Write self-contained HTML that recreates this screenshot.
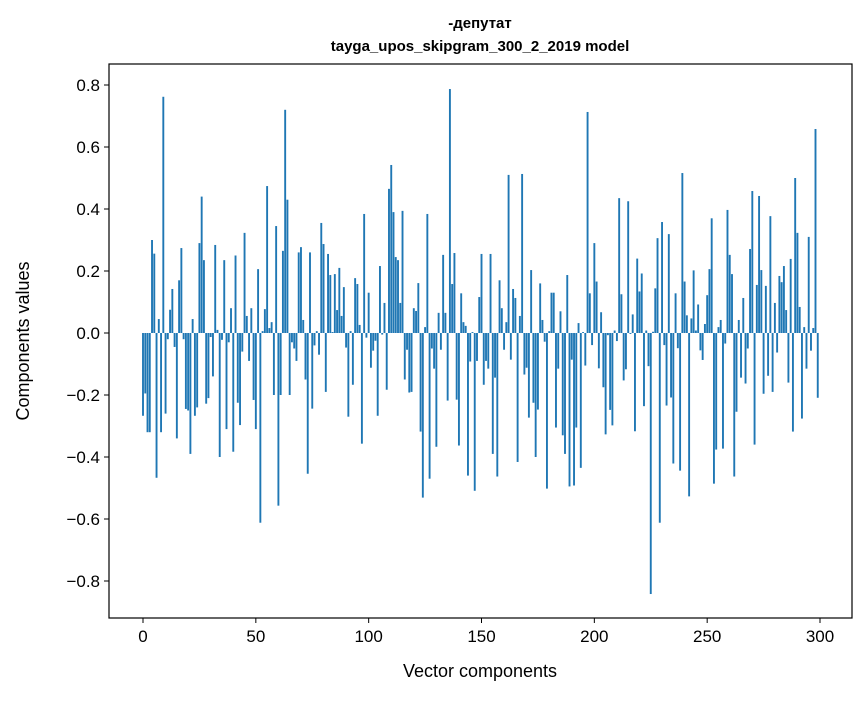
<!DOCTYPE html>
<html><head><meta charset="utf-8"><style>
body{margin:0;background:#fff;}
svg text{font-family:"Liberation Sans","DejaVu Sans",sans-serif;fill:#000;}
</style></head><body>
<svg id="chart" width="867" height="696" xmlns="http://www.w3.org/2000/svg">
<rect width="867" height="696" fill="#fff"/>
<text x="480" y="28" text-anchor="middle" font-size="15" font-weight="bold">-депутат</text>
<text x="480" y="51" text-anchor="middle" font-size="15" font-weight="bold">tayga_upos_skipgram_300_2_2019 model</text>
<g id="bars"></g>
<g id="axes"></g>
<text x="480" y="677" text-anchor="middle" font-size="18">Vector components</text>
<text transform="translate(29,341) rotate(-90)" text-anchor="middle" font-size="18">Components values</text>
</svg>
<script>
const values = [
-0.267,-0.195,-0.32,-0.32,0.30,0.256,-0.467,0.045,-0.32,0.762,
-0.26,-0.02,0.075,0.142,-0.045,-0.34,0.17,0.274,-0.02,-0.245,
-0.25,-0.39,0.045,-0.267,-0.24,0.29,0.44,0.235,-0.228,-0.21,
-0.013,-0.14,0.284,0.01,-0.4,-0.022,0.235,-0.31,-0.03,0.08,
-0.383,0.25,-0.225,-0.297,-0.06,0.323,0.055,-0.09,0.08,-0.216,
-0.31,0.206,-0.612,0.006,0.077,0.474,0.016,0.035,-0.2,0.345,
-0.557,-0.2,0.265,0.72,0.43,-0.2,-0.03,-0.05,-0.09,0.26,
0.277,0.042,-0.15,-0.454,0.26,-0.244,-0.04,0.006,-0.07,0.355,
0.287,-0.19,0.255,0.187,0.003,0.19,0.074,0.21,0.055,0.148,
-0.047,-0.27,0.006,-0.167,0.177,0.158,0.026,-0.357,0.384,-0.015,
0.13,-0.112,-0.057,-0.025,-0.267,0.216,-0.005,0.097,-0.183,0.465,
0.542,0.39,0.245,0.235,0.097,0.394,-0.15,-0.054,-0.192,-0.19,
0.08,0.071,0.161,-0.318,-0.531,0.019,0.384,-0.47,-0.05,-0.115,
-0.367,0.065,-0.054,0.252,0.065,-0.218,0.787,0.158,0.258,-0.215,
-0.363,0.128,0.035,0.023,-0.46,-0.092,0.003,-0.509,-0.09,0.116,
0.255,-0.167,-0.09,-0.115,0.255,-0.39,-0.144,-0.463,0.17,0.08,
-0.054,0.035,0.51,-0.086,0.142,0.113,-0.416,0.055,0.513,-0.134,
-0.112,-0.273,0.203,-0.225,-0.4,-0.247,0.16,0.042,-0.028,-0.502,
0.006,0.13,0.13,-0.305,-0.115,0.07,-0.33,-0.39,0.187,-0.495,
-0.086,-0.492,-0.305,0.032,-0.435,0.003,-0.105,0.713,0.128,-0.039,
0.29,0.166,-0.114,0.067,-0.175,-0.327,-0.007,-0.248,-0.298,0.008,
-0.026,0.435,0.125,-0.153,-0.117,0.425,-0.003,0.06,-0.317,0.24,
0.134,0.192,-0.236,0.008,-0.107,-0.842,0.004,0.144,0.306,-0.612,
0.358,-0.039,-0.234,0.319,-0.208,-0.421,0.128,-0.049,-0.444,0.516,
0.166,0.057,-0.527,0.047,0.202,0.008,0.092,-0.056,-0.087,0.029,
0.122,0.206,0.37,-0.486,-0.376,0.019,0.042,-0.373,-0.034,0.397,
0.252,0.19,-0.463,-0.254,0.042,-0.144,0.113,-0.163,-0.05,0.271,
0.458,-0.36,0.155,0.442,0.203,-0.196,0.152,-0.138,0.377,-0.19,
0.097,-0.063,0.184,0.164,0.216,0.074,-0.16,0.239,-0.318,0.5,
0.323,0.084,-0.276,0.019,-0.115,0.31,-0.057,0.016,0.658,-0.209
];
const xTicks = [0,50,100,150,200,250,300];
const yTicks = [-0.8,-0.6,-0.4,-0.2,0.0,0.2,0.4,0.6,0.8];
const yTickLabels = ["−0.8","−0.6","−0.4","−0.2","0.0","0.2","0.4","0.6","0.8"];

const L=109,R=852,T=64,B=618;
function xs(v){return 143+v*2.2567;}
function ys(v){return 333-v*310;}
const NS="http://www.w3.org/2000/svg";
const bars=document.getElementById('bars');
values.forEach((v,i)=>{
  const r=document.createElementNS(NS,'rect');
  const x0=xs(i-0.42),x1=xs(i+0.42);
  const y0=ys(Math.max(v,0)),y1=ys(Math.min(v,0));
  r.setAttribute('x',x0);r.setAttribute('width',x1-x0);
  r.setAttribute('y',y0);r.setAttribute('height',Math.max(y1-y0,0.01));
  r.setAttribute('fill','#1f77b4');
  
  
  bars.appendChild(r);
});
const ax=document.getElementById('axes');
const frame=document.createElementNS(NS,'rect');
frame.setAttribute('x',L);frame.setAttribute('y',T);frame.setAttribute('width',R-L);frame.setAttribute('height',B-T);
frame.setAttribute('fill','none');frame.setAttribute('stroke','#000');frame.setAttribute('stroke-width','1.2');


ax.appendChild(frame);
xTicks.forEach(t=>{
  const x=xs(t);
  const l=document.createElementNS(NS,'line');
  l.setAttribute('x1',x);l.setAttribute('x2',x);l.setAttribute('y1',B);l.setAttribute('y2',B+5);l.setAttribute('stroke','#000');
  
  
  ax.appendChild(l);
  const tx=document.createElementNS(NS,'text');
  tx.setAttribute('x',x);tx.setAttribute('y',B+24);tx.setAttribute('text-anchor','middle');tx.setAttribute('font-size','17');
  tx.textContent=t;
  
  
  ax.appendChild(tx);
});
yTicks.forEach((t,i)=>{
  const y=ys(t);
  const l=document.createElementNS(NS,'line');
  l.setAttribute('x1',L-5);l.setAttribute('x2',L);l.setAttribute('y1',y);l.setAttribute('y2',y);l.setAttribute('stroke','#000');
  
  
  ax.appendChild(l);
  const tx=document.createElementNS(NS,'text');
  tx.setAttribute('x',L-9);tx.setAttribute('y',y+6);tx.setAttribute('text-anchor','end');tx.setAttribute('font-size','17');
  tx.textContent=yTickLabels[i];
  
  
  ax.appendChild(tx);
});
</script>
</body></html>
